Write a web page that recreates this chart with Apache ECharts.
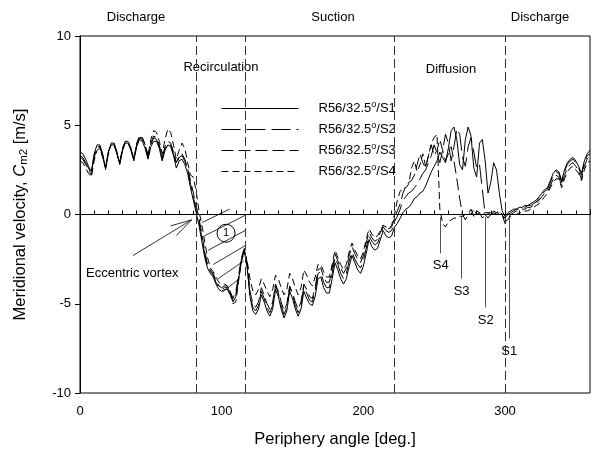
<!DOCTYPE html>
<html>
<head>
<meta charset="utf-8">
<script src="https://cdn.jsdelivr.net/npm/echarts@6/dist/echarts.min.js"></script>
<style>html,body{margin:0;padding:0;background:#fff;}#c{width:595px;height:456px;}</style>
</head>
<body>
<div id="c"></div>
<script>
// Periphery angle [deg.]
const angles = [
0,2,4,6,8,10,12,14,16,18,
20,22,24,26,28,30,32,34,36,38,
40,42,44,46,48,50,52,54,56,58,
60,62,64,66,68,70,72,74,76,78,
80,82,84,86,88,90,92,94,96,98,
100,102,104,106,108,110,112,114,116,118,
120,122,124,126,128,130,132,134,136,138,
140,142,144,146,148,150,152,154,156,158,
160,162,164,166,168,170,172,174,176,178,
180,182,184,186,188,190,192,194,196,198,
200,202,204,206,208,210,212,214,216,218,
220,222,224,226,228,230,232,234,236,238,
240,242,244,246,248,250,252,254,256,258,
260,262,264,266,268,270,272,274,276,278,
280,282,284,286,288,290,292,294,296,298,
300,302,304,306,308,310,312,314,316,318,
320,322,324,326,328,330,332,334,336,338,
340,342,344,346,348,350,352,354,356,358,
360];

const seriesNames = ['R56/32.5°/S1','R56/32.5°/S2','R56/32.5°/S3','R56/32.5°/S4'];

const s1 = [
3.5,3.4,3.1,2.7,2.4,3.4,3.9,3.9,3.4,2.6,
3.5,4.0,4.0,3.5,2.8,3.6,4.0,4.0,3.6,3.0,
3.8,4.2,4.1,3.7,3.1,3.8,4.1,4.1,3.7,3.0,
3.6,3.9,3.8,3.3,2.6,3.0,3.1,2.8,2.3,1.5,
0.8,0.1,-0.6,-1.5,-2.4,-3.0,-3.3,-3.5,-3.9,-4.2,
-4.3,-4.2,-4.2,-4.5,-4.9,-4.6,-3.6,-2.6,-2.0,-3.0,
-4.6,-5.4,-5.6,-5.3,-4.5,-4.9,-5.4,-5.7,-5.3,-4.2,
-4.6,-5.3,-5.8,-5.4,-4.3,-4.7,-5.3,-5.7,-5.3,-4.3,
-4.7,-5.0,-5.1,-4.6,-3.6,-3.5,-4.1,-4.4,-4.4,-3.6,
-2.7,-3.1,-3.6,-3.9,-3.6,-2.9,-2.3,-2.7,-3.1,-3.3,
-2.9,-2.2,-1.4,-1.8,-2.0,-1.9,-1.4,-0.9,-1.2,-1.3,
-1.2,-0.7,-0.5,-0.2,0.1,0.3,0.4,0.6,0.9,1.0,
1.2,1.3,1.6,2.0,2.4,2.7,3.0,3.5,3.2,2.9,
3.7,4.7,4.9,4.2,2.8,2.5,4.2,4.9,4.4,2.6,
2.1,4.0,4.2,3.0,1.2,1.8,2.9,2.5,1.2,0.2,
-0.1,0.1,0.2,0.3,0.3,0.4,0.4,0.5,0.5,0.6,
0.7,0.8,1.0,1.2,1.4,1.5,1.9,2.3,2.5,2.4,
1.9,2.5,2.9,3.1,3.2,3.0,2.7,2.3,3.0,3.4,
3.6];

const s2 = [
3.3,3.2,2.9,2.6,2.3,3.3,3.8,3.8,3.3,2.5,
3.4,3.9,3.9,3.4,2.8,3.6,4.0,4.0,3.6,3.1,
3.9,4.3,4.2,3.8,3.2,3.9,4.3,4.2,3.8,3.1,
3.7,4.0,3.9,3.4,2.8,3.2,3.3,3.0,2.5,1.7,
1.0,0.3,-0.4,-1.3,-2.2,-2.9,-3.2,-3.4,-3.8,-4.1,
-4.2,-4.1,-4.1,-4.4,-4.8,-4.5,-3.5,-2.5,-1.9,-2.9,
-4.5,-5.2,-5.4,-5.1,-4.3,-4.7,-5.2,-5.5,-5.1,-4.0,
-4.4,-5.1,-5.6,-5.2,-4.1,-4.5,-5.1,-5.5,-5.1,-4.0,
-4.4,-4.8,-4.9,-4.3,-3.3,-3.2,-3.8,-4.1,-4.1,-3.3,
-2.4,-2.8,-3.3,-3.6,-3.3,-2.6,-2.1,-2.5,-2.8,-3.0,
-2.6,-1.9,-1.2,-1.5,-1.7,-1.6,-1.2,-0.7,-0.9,-1.0,
-0.9,-0.4,-0.1,0.3,0.8,1.0,1.2,1.3,1.5,1.7,
2.0,2.3,2.5,2.9,3.3,3.9,3.4,2.9,3.6,4.5,
4.0,3.0,3.8,4.8,4.5,3.2,2.7,3.8,4.3,3.5,
2.6,2.8,1.4,0.0,-0.2,0.0,0.1,0.0,0.1,0.0,
-0.2,0.0,0.1,0.2,0.3,0.3,0.4,0.4,0.5,0.5,
0.6,0.7,0.9,1.1,1.3,1.4,1.8,2.2,2.4,2.3,
1.8,2.4,2.8,3.0,3.1,2.9,2.6,2.2,2.9,3.3,
3.4];

const s3 = [
3.2,3.1,2.8,2.5,2.2,3.2,3.7,3.8,3.3,2.6,
3.5,3.9,4.0,3.5,2.9,3.7,4.1,4.1,3.7,3.1,
3.9,4.3,4.3,3.9,3.3,4.0,4.4,4.3,3.9,3.2,
3.8,4.1,4.0,3.5,2.9,3.3,3.4,3.1,2.6,1.9,
1.2,0.5,-0.2,-1.1,-2.0,-2.8,-3.1,-3.3,-3.7,-4.0,
-4.1,-4.0,-4.0,-4.3,-4.7,-4.3,-3.4,-2.4,-1.9,-2.7,
-4.3,-5.0,-5.2,-4.9,-4.1,-4.5,-5.0,-5.3,-4.9,-3.9,
-4.3,-4.9,-5.4,-5.0,-4.0,-4.4,-4.9,-5.3,-4.9,-3.9,
-4.2,-4.6,-4.7,-4.1,-3.1,-3.0,-3.5,-3.8,-3.8,-3.0,
-2.2,-2.6,-3.0,-3.3,-3.0,-2.3,-1.8,-2.2,-2.5,-2.7,
-2.3,-1.6,-1.0,-1.3,-1.5,-1.4,-1.0,-0.6,-0.8,-0.8,
-0.7,-0.2,0.2,0.6,1.2,1.6,1.8,1.9,2.2,2.8,
3.4,2.9,2.6,3.3,3.9,3.3,3.6,4.2,3.6,3.0,
3.4,3.8,3.0,2.0,0.9,0.0,-0.3,0.0,0.3,-0.1,
0.2,0.1,-0.2,0.0,0.1,0.1,0.0,0.1,0.2,0.0,
-0.5,-0.3,0.0,0.1,0.2,0.2,0.3,0.3,0.4,0.4,
0.5,0.6,0.8,1.0,1.2,1.3,1.6,2.0,2.2,2.1,
1.6,2.2,2.6,2.8,2.9,2.7,2.4,2.0,2.7,3.1,
3.3];

const s4 = [
3.0,2.9,2.6,2.3,2.1,3.0,3.6,3.7,3.2,2.6,
3.5,3.9,3.9,3.5,2.9,3.7,4.1,4.1,3.7,3.1,
4.0,4.4,4.3,3.9,3.3,4.2,4.7,4.6,4.1,3.4,
4.2,4.8,4.6,3.9,3.1,3.6,4.0,3.7,2.9,2.2,
2.1,1.3,0.2,-0.6,-1.5,-2.4,-3.0,-3.2,-3.5,-3.8,
-3.9,-3.9,-4.0,-4.4,-5.0,-4.9,-3.7,-2.6,-2.1,-2.6,
-3.6,-4.3,-4.5,-4.2,-3.6,-3.9,-4.3,-4.6,-4.2,-3.4,
-3.6,-4.1,-4.5,-4.2,-3.3,-3.6,-4.1,-4.5,-4.1,-3.1,
-3.4,-3.8,-4.0,-3.5,-2.8,-2.8,-3.2,-3.5,-3.5,-2.8,
-2.0,-2.4,-2.8,-3.1,-2.8,-2.1,-1.6,-2.0,-2.3,-2.5,
-2.1,-1.4,-0.8,-1.1,-1.3,-1.2,-0.9,-0.6,-0.7,-0.8,
-0.6,0.0,0.8,1.3,1.5,1.5,1.7,2.6,3.0,2.4,
2.8,3.4,2.7,3.3,4.0,4.3,4.5,0.3,-0.5,-0.7,
-0.4,-0.3,-0.2,-0.2,-0.1,-0.1,0.0,0.1,0.0,0.3,
0.0,0.1,0.0,0.1,0.1,0.0,0.2,0.1,0.2,0.0,
-0.4,-0.3,-0.1,0.0,0.0,0.1,0.1,0.2,0.2,0.3,
0.4,0.5,0.6,0.8,1.0,1.2,1.5,1.8,2.0,2.0,
1.5,2.0,2.4,2.6,2.7,2.5,2.3,1.9,2.5,2.9,
3.0];

const xTicks = {min: 0, max: 360, interval: 100};
const yTicks = {min: -10, max: 10, interval: 5};
const regionBounds = [82, 116.5, 222, 300];
const stationAngles = [303, 286.4, 269.4, 254.6]; // S1..S4 markers

const FONT = '"Liberation Sans", Arial, sans-serif';
const allValues = [s1, s2, s3, s4];
const dashes = ['solid', [19, 6], [12, 5], [7, 4]];

const chart = echarts.init(document.getElementById('c'), null, {renderer: 'canvas'});

const pairs = v => angles.map((a, i) => [a, v[i]]);

const stationEnds = [-6.95, -5.21, -3.59, -2.18];
const stationLines = stationAngles.map((a, k) => [
  {coord: [a, -0.15], lineStyle: {color: '#555', type: 'solid', width: 1},
   label: {show: true, position: 'end', formatter: 'S' + (k + 1), color: '#000', fontSize: 13, fontFamily: FONT, distance: 6}},
  {coord: [a, stationEnds[k]]}
]);

const hatch = [
  [[86.2, -0.45], [105.5, 0.3]],
  [[87.8, -1.2], [116.5, -0.05]],
  [[90.5, -2.0], [116.5, -0.9]],
  [[94.0, -2.8], [116.5, -1.75]],
  [[97.5, -3.6], [115.6, -2.6]],
  [[100.5, -4.35], [112.3, -3.6]]
].map(p => [{coord: p[0], lineStyle: {color: '#000', type: 'solid', width: 0.8}}, {coord: p[1]}]);

const arrow = [
  [[37.4, -2.3], [78.8, -0.3]],
  [[63.9, -0.64], [78.8, -0.3]],
  [[68.0, -1.18], [78.8, -0.3]]
].map(p => [{coord: p[0], lineStyle: {color: '#000', type: 'solid', width: 0.8}}, {coord: p[1]}]);

const series = seriesNames.map((name, k) => ({
  name: name,
  type: 'line',
  data: pairs(allValues[k]),
  symbol: 'none',
  showSymbol: false,
  smooth: false,
  lineStyle: {color: '#000', width: 1, type: dashes[k]},
  itemStyle: {color: '#000'},
  z: 3
}));

series[0].markLine = {
  silent: true,
  symbol: ['none', 'none'],
  animation: false,
  label: {show: false},
  data: [
    {yAxis: 0, lineStyle: {color: '#000', type: 'solid', width: 1}},
    ...regionBounds.map(b => ({xAxis: b, lineStyle: {color: '#333', type: [9, 4], width: 1}})),
    ...hatch,
    ...arrow,
    ...stationLines
  ]
};
series[0].markPoint = {
  silent: true,
  animation: false,
  data: [{
    coord: [103.1, -1.05], symbol: 'circle', symbolSize: 18,
    itemStyle: {color: 'rgba(0,0,0,0)', borderColor: '#000', borderWidth: 1},
    label: {show: true, position: 'inside', formatter: '1', color: '#000', fontSize: 11, fontFamily: FONT}
  }]
};

const txt = (text, x, y, align) => ({
  type: 'text', x: x, y: y, silent: true,
  style: {text: text, fill: '#000', fontSize: 13, fontFamily: FONT, align: align || 'center', verticalAlign: 'middle'}
});

const option = {
  animation: false,
  backgroundColor: '#fff',
  textStyle: {fontFamily: FONT},
  grid: {left: 80, right: 5, top: 36, bottom: 63, show: true, borderColor: '#000', borderWidth: 1, backgroundColor: 'rgba(0,0,0,0)'},
  xAxis: {
    type: 'value', min: xTicks.min, max: xTicks.max, interval: xTicks.interval,
    name: 'Periphery angle [deg.]', nameLocation: 'middle', nameGap: 38,
    nameTextStyle: {fontSize: 16.5, fontFamily: FONT, color: '#000'},
    axisLine: {show: true, lineStyle: {color: '#000', width: 1}},
    axisTick: {show: true, inside: true, length: 5, lineStyle: {color: '#000'}},
    minorTick: {show: true, splitNumber: 10, length: 4, lineStyle: {color: '#000'}},
    axisLabel: {fontSize: 13, fontFamily: FONT, color: '#000', margin: 12, showMaxLabel: false},
    splitLine: {show: false}
  },
  yAxis: {
    type: 'value', min: yTicks.min, max: yTicks.max, interval: yTicks.interval,
    name: 'Meridional velocity, {i|C}{sub|m2} [m/s]', nameLocation: 'middle', nameGap: 50, nameRotate: 90,
    nameTextStyle: {fontSize: 16.5, fontFamily: FONT, color: '#000', lineHeight: 20,
      rich: {i: {fontStyle: 'italic', fontSize: 16.5, fontFamily: FONT, lineHeight: 20},
             sub: {fontSize: 11.5, fontFamily: FONT, verticalAlign: 'bottom', lineHeight: 20}}},
    axisLine: {show: true, lineStyle: {color: '#000', width: 1}},
    axisTick: {show: true, inside: false, length: 5, lineStyle: {color: '#000'}},
    axisLabel: {fontSize: 13, fontFamily: FONT, color: '#000', margin: 9},
    splitLine: {show: false}
  },
  legend: {
    data: seriesNames,
    orient: 'vertical', left: 221, top: 100.5,
    itemWidth: 77, itemHeight: 14, itemGap: 5, padding: 0,
    selectedMode: false,
    itemStyle: {opacity: 0, borderWidth: 0},
    lineStyle: {width: 1, color: '#000'},
    formatter: n => n.replace('°', '{sup|o}'),
    textStyle: {fontSize: 13, fontFamily: FONT, color: '#000', padding: [0, 0, 0, 15], lineHeight: 16,
      rich: {sup: {fontSize: 9, fontFamily: FONT, verticalAlign: 'top', lineHeight: 16}}}
  },
  graphic: [
    txt('Discharge', 136, 17),
    txt('Suction', 333, 17),
    txt('Discharge', 540, 17),
    txt('Recirculation', 221, 67),
    txt('Diffusion', 451, 69),
    txt('Eccentric vortex', 86, 273, 'left')
  ],
  series: series
};
chart.setOption(option);
</script>
</body>
</html>
